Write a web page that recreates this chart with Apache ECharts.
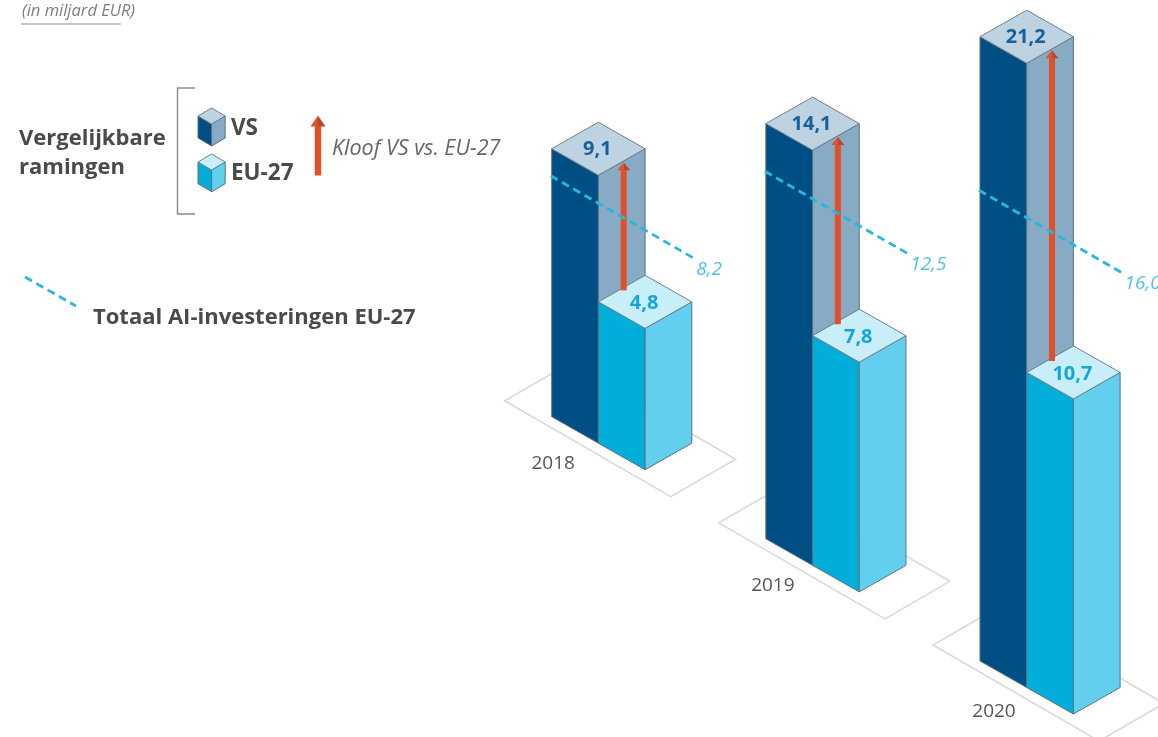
<!DOCTYPE html>
<html>
<head>
<meta charset="utf-8">
<style>html,body{margin:0;padding:0;background:#fff}#chart{width:1158px;height:737px}</style>
<script src="https://cdn.jsdelivr.net/npm/echarts@6/dist/echarts.min.js"></script>
</head>
<body>
<div id="chart"></div>
<script>
// --- data ---
const years = ['2018', '2019', '2020'];
const vsValues = [9.1, 14.1, 21.2];
const euValues = [4.8, 7.8, 10.7];
const totalEuValues = [8.2, 12.5, 16.0];
const vsLabels = ['9,1', '14,1', '21,2'];
const euLabels = ['4,8', '7,8', '10,7'];
const totalLabels = ['8,2', '12,5', '16,0'];

// --- isometric projection and styling ---
const ISO_W = 46.7, ISO_H = 26.5;       // screen vector of one bar width
const YEAR_DROP = 122.15;               // each year sits lower on the page
const YEAR_LABEL_DX = [1.5, 7, 14];
const YEAR_LABEL_DY = [46.5, 46.5, 51];
const EDGE = '#5b717f';
const C = {
  vs: { top: '#bdd3e2', left: '#004f84', right: '#87aac5', text: '#17609c' },
  eu: { top: '#c8eef9', left: '#00aed9', right: '#63cfef', text: '#14a5dc' },
  arrow: '#e2502a', arrowDark: '#b34a2d', dash: '#2bb5dd', dashText: '#4dc1e9',
  floor: '#d9d9d9', text: '#4a4a4a', soft: '#666666'
};
const FONT = '"Open Sans", "Noto Sans", sans-serif';

function pt(api, i, v) {
  const p = api.coord([i, v]);
  return [p[0], p[1] + i * YEAR_DROP];
}
function poly(points, fill, stroke, lw) {
  return { type: 'polygon', shape: { points },
    style: { fill, stroke: stroke || null, lineWidth: lw === undefined ? 1 : lw, lineJoin: 'round' } };
}
function cuboid(x, base, top, w, h, col) {
  // x/base: left-back corner at the floor; top: same corner at the bar height
  return [
    poly([[x, top], [x + w, top + h], [x + w, base + h], [x, base]], col.left, EDGE),
    poly([[x + w, top + h], [x + 2 * w, top], [x + 2 * w, base], [x + w, base + h]], col.right, EDGE),
    poly([[x, top], [x + w, top - h], [x + 2 * w, top], [x + w, top + h]], col.top, '#6f7f8a')
  ];
}
function arrowShape(x, tip, tail, shaft, headW, headH) {
  return [
    poly([[x - shaft / 2, tip + headH - 1], [x + shaft / 2, tip + headH - 1], [x + shaft / 2, tail], [x - shaft / 2, tail]], C.arrow),
    poly([[x, tip], [x, tip + headH], [x - headW / 2, tip + headH]], C.arrow),
    poly([[x, tip], [x + headW / 2, tip + headH], [x, tip + headH]], C.arrowDark)
  ];
}
function series(name, values, z, render) {
  return {
    type: 'custom', name, z, clip: false, silent: true,
    coordinateSystem: 'cartesian2d',
    data: years.map((y, i) => [y, values[i]]),
    encode: { x: 0, y: 1 },
    renderItem: function (params, api) {
      return { type: 'group', children: render(params.dataIndex, api) };
    }
  };
}
function legendText(x, y, text, fill, font) {
  return { type: 'text', x, y, style: { text, fill, font, textVerticalAlign: 'middle' } };
}

const option = {
  animation: false,
  backgroundColor: '#ffffff',
  grid: { left: 444.63, top: 0, width: 642.45, height: 416.7 },
  xAxis: { type: 'category', data: years, show: false, boundaryGap: true },
  yAxis: { type: 'value', min: 0, max: 14.15, show: false, splitLine: { show: false } },
  series: [
    series('Vloer', vsValues, 1, function (i, api) {
      const b = pt(api, i, 0);
      return [{
        type: 'polygon',
        shape: { points: [[b[0] - 47, b[1] - 16], [b[0] + 119, b[1] + 80], [b[0] + 184, b[1] + 42.5], [b[0] + 18, b[1] - 53.5]] },
        style: { fill: '#ffffff', stroke: C.floor, lineWidth: 1.6 }
      }];
    }),
    series('VS', vsValues, 2, function (i, api) {
      const b = pt(api, i, 0), t = pt(api, i, vsValues[i]);
      return cuboid(b[0], b[1], t[1], ISO_W, ISO_H, C.vs);
    }),
    series('EU-27', euValues, 3, function (i, api) {
      const b = pt(api, i, 0), t = pt(api, i, euValues[i]);
      return cuboid(b[0] + ISO_W, b[1] + ISO_H, t[1] + ISO_H, ISO_W, ISO_H, C.eu);
    }),
    series('Kloof VS vs. EU-27', vsValues, 4, function (i, api) {
      const b = pt(api, i, 0), t = pt(api, i, vsValues[i]), e = pt(api, i, euValues[i]);
      const x = b[0] + 72;
      return arrowShape(x, t[1] + 13.5, e[1] + ISO_H - 11.5, 6, 13, 8);
    }),
    series('Totaal AI-investeringen EU-27', totalEuValues, 5, function (i, api) {
      const s = pt(api, i, totalEuValues[i]);
      return [{
        type: 'line',
        shape: { x1: s[0] - 1, y1: s[1] + 0.5, x2: s[0] + 143, y2: s[1] + 83.5 },
        style: { stroke: C.dash, lineWidth: 2.8, lineDash: [8, 5], fill: null }
      }, {
        type: 'text',
        style: { x: s[0] + 144.5, y: s[1] + 94, text: totalLabels[i], fill: C.dashText,
          font: 'italic 400 19px ' + FONT, textAlign: 'left', textVerticalAlign: 'middle' }
      }];
    }),
    series('Labels', vsValues, 6, function (i, api) {
      const b = pt(api, i, 0), t = pt(api, i, vsValues[i]), e = pt(api, i, euValues[i]);
      const label = (x, y, text, fill, font) => ({
        type: 'text',
        style: { x, y, text, fill, font, textAlign: 'center', textVerticalAlign: 'middle' }
      });
      return [
        label(b[0] + ISO_W - 1, t[1] + 0.5, vsLabels[i], C.vs.text, '700 20px ' + FONT),
        label(b[0] + 2 * ISO_W - 1, e[1] + ISO_H + 1.5, euLabels[i], C.eu.text, '700 20px ' + FONT),
        label(b[0] + YEAR_LABEL_DX[i], b[1] + YEAR_LABEL_DY[i], years[i], '#555555', '400 19px ' + FONT)
      ];
    })
  ],
  graphic: {
    elements: [
      legendText(22, 11, '(in miljard EUR)', '#7d7d7d', 'italic 400 16.5px ' + FONT),
      { type: 'line', shape: { x1: 21, y1: 24, x2: 121, y2: 24 }, style: { stroke: '#b5b5b5', lineWidth: 1.4 } },
      legendText(19, 139, 'Vergelijkbare', C.text, '700 22px ' + FONT),
      legendText(19, 168, 'ramingen', C.text, '700 22px ' + FONT),
      { type: 'polyline', shape: { points: [[195, 88], [177.5, 88], [177.5, 214], [195, 214]] }, style: { stroke: '#8a8a8a', lineWidth: 1.4, fill: null } },
      ...cuboid(198, 138, 116, 13.6, 8, C.vs),
      ...cuboid(198, 183.7, 162, 13.6, 8, C.eu),
      legendText(231, 129, 'VS', C.text, '700 22.5px ' + FONT),
      legendText(231, 174, 'EU-27', C.text, '700 22.5px ' + FONT),
      ...arrowShape(318, 115.5, 175.5, 6.5, 15, 11),
      legendText(332, 149, 'Kloof VS vs. EU-27', C.soft, 'italic 400 21.5px ' + FONT),
      { type: 'line', shape: { x1: 25, y1: 277, x2: 76, y2: 306 }, style: { stroke: C.dash, lineWidth: 2.8, lineDash: [8, 5] } },
      legendText(93, 318, 'Totaal AI-investeringen EU-27', C.text, '700 22px ' + FONT)
    ]
  }
};
echarts.init(document.getElementById('chart')).setOption(option);
</script>
</body>
</html>
